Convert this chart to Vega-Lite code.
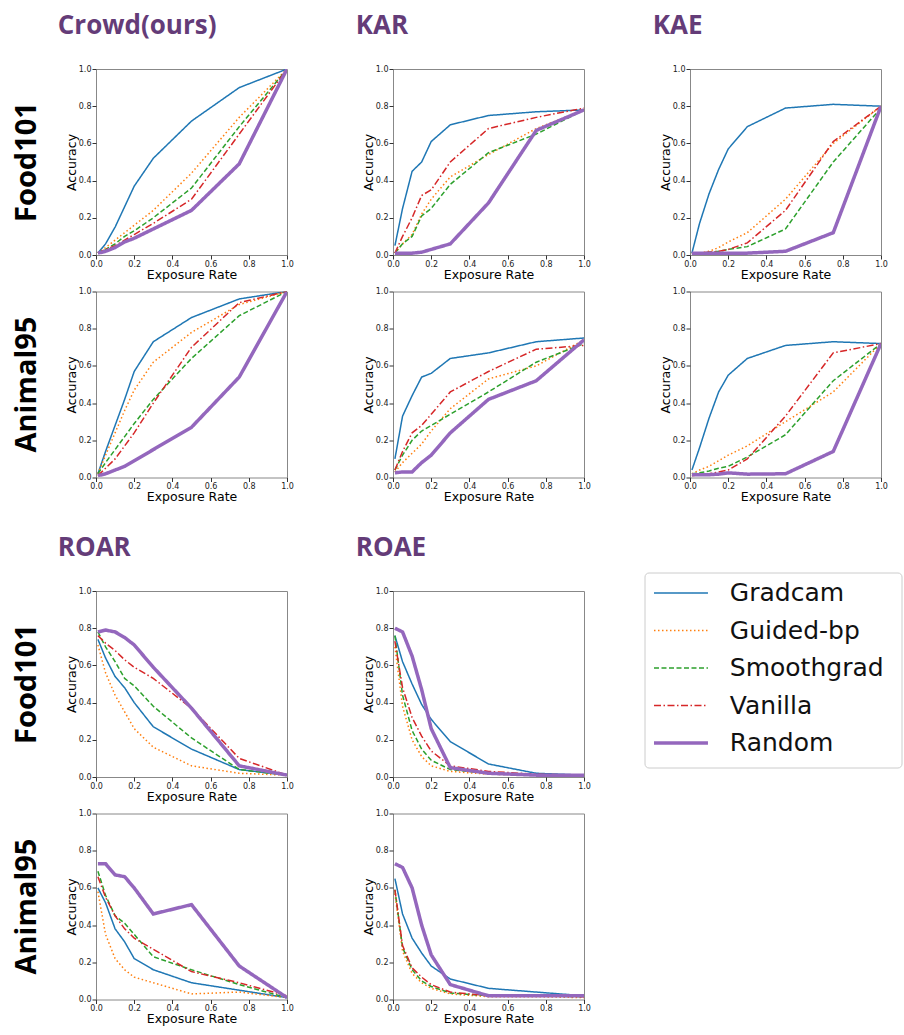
{
"$schema":"https://vega.github.io/schema/vega-lite/v6.json",
"padding":{"left":12,"top":12,"right":5,"bottom":5},
"background":"white",
"config":{
 "view":{"stroke":"#888","strokeWidth":1},
 "axis":{"grid":false,"domain":false,"tickSize":4,"tickColor":"#333","labelFont":"DejaVu Sans","labelFontSize":8,"labelColor":"#222","labelPadding":1,"labelFlush":false,"labelOverlap":false,"titleFont":"DejaVu Sans","titleFontSize":12.5,"titleFontWeight":"normal","titleColor":"#000","titlePadding":0}
},
"datasets":{
"crowd_food":[
{"s":"Gradcam","x":0.01,"y":0.01},{"s":"Gradcam","x":0.05,"y":0.06},{"s":"Gradcam","x":0.1,"y":0.15},{"s":"Gradcam","x":0.15,"y":0.26},{"s":"Gradcam","x":0.2,"y":0.37},{"s":"Gradcam","x":0.3,"y":0.52},{"s":"Gradcam","x":0.5,"y":0.72},{"s":"Gradcam","x":0.75,"y":0.9},{"s":"Gradcam","x":1,"y":1.0},
{"s":"Guided-bp","x":0.01,"y":0.01},{"s":"Guided-bp","x":0.05,"y":0.04},{"s":"Guided-bp","x":0.1,"y":0.08},{"s":"Guided-bp","x":0.15,"y":0.12},{"s":"Guided-bp","x":0.2,"y":0.16},{"s":"Guided-bp","x":0.3,"y":0.24},{"s":"Guided-bp","x":0.5,"y":0.44},{"s":"Guided-bp","x":0.75,"y":0.74},{"s":"Guided-bp","x":1,"y":1.0},
{"s":"Smoothgrad","x":0.01,"y":0.01},{"s":"Smoothgrad","x":0.05,"y":0.03},{"s":"Smoothgrad","x":0.1,"y":0.06},{"s":"Smoothgrad","x":0.15,"y":0.1},{"s":"Smoothgrad","x":0.2,"y":0.13},{"s":"Smoothgrad","x":0.3,"y":0.2},{"s":"Smoothgrad","x":0.5,"y":0.36},{"s":"Smoothgrad","x":0.75,"y":0.69},{"s":"Smoothgrad","x":1,"y":1.0},
{"s":"Vanilla","x":0.01,"y":0.01},{"s":"Vanilla","x":0.05,"y":0.03},{"s":"Vanilla","x":0.1,"y":0.05},{"s":"Vanilla","x":0.15,"y":0.08},{"s":"Vanilla","x":0.2,"y":0.11},{"s":"Vanilla","x":0.3,"y":0.17},{"s":"Vanilla","x":0.5,"y":0.3},{"s":"Vanilla","x":0.75,"y":0.65},{"s":"Vanilla","x":1,"y":1.0},
{"s":"Random","x":0.01,"y":0.01},{"s":"Random","x":0.05,"y":0.02},{"s":"Random","x":0.1,"y":0.04},{"s":"Random","x":0.15,"y":0.07},{"s":"Random","x":0.2,"y":0.09},{"s":"Random","x":0.3,"y":0.14},{"s":"Random","x":0.5,"y":0.24},{"s":"Random","x":0.75,"y":0.49},{"s":"Random","x":1,"y":1.0}
],
"kar_food":[
{"s":"Gradcam","x":0.01,"y":0.05},{"s":"Gradcam","x":0.05,"y":0.25},{"s":"Gradcam","x":0.1,"y":0.45},{"s":"Gradcam","x":0.15,"y":0.5},{"s":"Gradcam","x":0.2,"y":0.61},{"s":"Gradcam","x":0.3,"y":0.7},{"s":"Gradcam","x":0.5,"y":0.75},{"s":"Gradcam","x":0.75,"y":0.77},{"s":"Gradcam","x":1,"y":0.78},
{"s":"Guided-bp","x":0.01,"y":0.01},{"s":"Guided-bp","x":0.05,"y":0.06},{"s":"Guided-bp","x":0.1,"y":0.11},{"s":"Guided-bp","x":0.15,"y":0.22},{"s":"Guided-bp","x":0.2,"y":0.3},{"s":"Guided-bp","x":0.3,"y":0.42},{"s":"Guided-bp","x":0.5,"y":0.54},{"s":"Guided-bp","x":0.75,"y":0.68},{"s":"Guided-bp","x":1,"y":0.78},
{"s":"Smoothgrad","x":0.01,"y":0.01},{"s":"Smoothgrad","x":0.05,"y":0.06},{"s":"Smoothgrad","x":0.1,"y":0.1},{"s":"Smoothgrad","x":0.15,"y":0.21},{"s":"Smoothgrad","x":0.2,"y":0.25},{"s":"Smoothgrad","x":0.3,"y":0.38},{"s":"Smoothgrad","x":0.5,"y":0.55},{"s":"Smoothgrad","x":0.75,"y":0.65},{"s":"Smoothgrad","x":1,"y":0.78},
{"s":"Vanilla","x":0.01,"y":0.01},{"s":"Vanilla","x":0.05,"y":0.1},{"s":"Vanilla","x":0.1,"y":0.2},{"s":"Vanilla","x":0.15,"y":0.32},{"s":"Vanilla","x":0.2,"y":0.35},{"s":"Vanilla","x":0.3,"y":0.5},{"s":"Vanilla","x":0.5,"y":0.68},{"s":"Vanilla","x":0.75,"y":0.74},{"s":"Vanilla","x":1,"y":0.79},
{"s":"Random","x":0.01,"y":0.01},{"s":"Random","x":0.05,"y":0.01},{"s":"Random","x":0.1,"y":0.01},{"s":"Random","x":0.15,"y":0.015},{"s":"Random","x":0.2,"y":0.03},{"s":"Random","x":0.3,"y":0.06},{"s":"Random","x":0.5,"y":0.28},{"s":"Random","x":0.75,"y":0.67},{"s":"Random","x":1,"y":0.78}
],
"kae_food":[
{"s":"Gradcam","x":0.01,"y":0.01},{"s":"Gradcam","x":0.05,"y":0.17},{"s":"Gradcam","x":0.1,"y":0.33},{"s":"Gradcam","x":0.15,"y":0.46},{"s":"Gradcam","x":0.2,"y":0.57},{"s":"Gradcam","x":0.3,"y":0.69},{"s":"Gradcam","x":0.5,"y":0.79},{"s":"Gradcam","x":0.75,"y":0.81},{"s":"Gradcam","x":1,"y":0.8},
{"s":"Guided-bp","x":0.01,"y":0.01},{"s":"Guided-bp","x":0.05,"y":0.01},{"s":"Guided-bp","x":0.1,"y":0.02},{"s":"Guided-bp","x":0.15,"y":0.04},{"s":"Guided-bp","x":0.2,"y":0.07},{"s":"Guided-bp","x":0.3,"y":0.12},{"s":"Guided-bp","x":0.5,"y":0.3},{"s":"Guided-bp","x":0.75,"y":0.6},{"s":"Guided-bp","x":1,"y":0.8},
{"s":"Smoothgrad","x":0.01,"y":0.01},{"s":"Smoothgrad","x":0.05,"y":0.01},{"s":"Smoothgrad","x":0.1,"y":0.015},{"s":"Smoothgrad","x":0.15,"y":0.02},{"s":"Smoothgrad","x":0.2,"y":0.03},{"s":"Smoothgrad","x":0.3,"y":0.045},{"s":"Smoothgrad","x":0.5,"y":0.14},{"s":"Smoothgrad","x":0.75,"y":0.5},{"s":"Smoothgrad","x":1,"y":0.79},
{"s":"Vanilla","x":0.01,"y":0.01},{"s":"Vanilla","x":0.05,"y":0.01},{"s":"Vanilla","x":0.1,"y":0.015},{"s":"Vanilla","x":0.15,"y":0.02},{"s":"Vanilla","x":0.2,"y":0.03},{"s":"Vanilla","x":0.3,"y":0.065},{"s":"Vanilla","x":0.5,"y":0.24},{"s":"Vanilla","x":0.75,"y":0.61},{"s":"Vanilla","x":1,"y":0.8},
{"s":"Random","x":0.01,"y":0.01},{"s":"Random","x":0.05,"y":0.01},{"s":"Random","x":0.1,"y":0.01},{"s":"Random","x":0.15,"y":0.01},{"s":"Random","x":0.2,"y":0.01},{"s":"Random","x":0.3,"y":0.01},{"s":"Random","x":0.5,"y":0.02},{"s":"Random","x":0.75,"y":0.12},{"s":"Random","x":1,"y":0.8}
],
"crowd_animal":[
{"s":"Gradcam","x":0.01,"y":0.02},{"s":"Gradcam","x":0.05,"y":0.14},{"s":"Gradcam","x":0.1,"y":0.28},{"s":"Gradcam","x":0.15,"y":0.42},{"s":"Gradcam","x":0.2,"y":0.57},{"s":"Gradcam","x":0.3,"y":0.73},{"s":"Gradcam","x":0.5,"y":0.86},{"s":"Gradcam","x":0.75,"y":0.96},{"s":"Gradcam","x":1,"y":1.0},
{"s":"Guided-bp","x":0.01,"y":0.02},{"s":"Guided-bp","x":0.05,"y":0.12},{"s":"Guided-bp","x":0.1,"y":0.24},{"s":"Guided-bp","x":0.15,"y":0.36},{"s":"Guided-bp","x":0.2,"y":0.47},{"s":"Guided-bp","x":0.3,"y":0.62},{"s":"Guided-bp","x":0.5,"y":0.78},{"s":"Guided-bp","x":0.75,"y":0.93},{"s":"Guided-bp","x":1,"y":1.0},
{"s":"Smoothgrad","x":0.01,"y":0.02},{"s":"Smoothgrad","x":0.05,"y":0.08},{"s":"Smoothgrad","x":0.1,"y":0.15},{"s":"Smoothgrad","x":0.15,"y":0.22},{"s":"Smoothgrad","x":0.2,"y":0.29},{"s":"Smoothgrad","x":0.3,"y":0.42},{"s":"Smoothgrad","x":0.5,"y":0.64},{"s":"Smoothgrad","x":0.75,"y":0.87},{"s":"Smoothgrad","x":1,"y":1.0},
{"s":"Vanilla","x":0.01,"y":0.01},{"s":"Vanilla","x":0.05,"y":0.05},{"s":"Vanilla","x":0.1,"y":0.1},{"s":"Vanilla","x":0.15,"y":0.17},{"s":"Vanilla","x":0.2,"y":0.24},{"s":"Vanilla","x":0.3,"y":0.4},{"s":"Vanilla","x":0.5,"y":0.7},{"s":"Vanilla","x":0.75,"y":0.94},{"s":"Vanilla","x":1,"y":1.0},
{"s":"Random","x":0.01,"y":0.01},{"s":"Random","x":0.05,"y":0.02},{"s":"Random","x":0.1,"y":0.04},{"s":"Random","x":0.15,"y":0.06},{"s":"Random","x":0.2,"y":0.09},{"s":"Random","x":0.3,"y":0.15},{"s":"Random","x":0.5,"y":0.27},{"s":"Random","x":0.75,"y":0.54},{"s":"Random","x":1,"y":1.0}
],
"kar_animal":[
{"s":"Gradcam","x":0.01,"y":0.1},{"s":"Gradcam","x":0.05,"y":0.33},{"s":"Gradcam","x":0.1,"y":0.44},{"s":"Gradcam","x":0.15,"y":0.54},{"s":"Gradcam","x":0.2,"y":0.56},{"s":"Gradcam","x":0.3,"y":0.64},{"s":"Gradcam","x":0.5,"y":0.67},{"s":"Gradcam","x":0.75,"y":0.73},{"s":"Gradcam","x":1,"y":0.75},
{"s":"Guided-bp","x":0.01,"y":0.03},{"s":"Guided-bp","x":0.05,"y":0.08},{"s":"Guided-bp","x":0.1,"y":0.13},{"s":"Guided-bp","x":0.15,"y":0.18},{"s":"Guided-bp","x":0.2,"y":0.25},{"s":"Guided-bp","x":0.3,"y":0.37},{"s":"Guided-bp","x":0.5,"y":0.53},{"s":"Guided-bp","x":0.75,"y":0.6},{"s":"Guided-bp","x":1,"y":0.74},
{"s":"Smoothgrad","x":0.01,"y":0.04},{"s":"Smoothgrad","x":0.05,"y":0.12},{"s":"Smoothgrad","x":0.1,"y":0.2},{"s":"Smoothgrad","x":0.15,"y":0.25},{"s":"Smoothgrad","x":0.2,"y":0.28},{"s":"Smoothgrad","x":0.3,"y":0.34},{"s":"Smoothgrad","x":0.5,"y":0.46},{"s":"Smoothgrad","x":0.75,"y":0.62},{"s":"Smoothgrad","x":1,"y":0.72},
{"s":"Vanilla","x":0.01,"y":0.04},{"s":"Vanilla","x":0.05,"y":0.14},{"s":"Vanilla","x":0.1,"y":0.24},{"s":"Vanilla","x":0.15,"y":0.28},{"s":"Vanilla","x":0.2,"y":0.34},{"s":"Vanilla","x":0.3,"y":0.46},{"s":"Vanilla","x":0.5,"y":0.57},{"s":"Vanilla","x":0.75,"y":0.69},{"s":"Vanilla","x":1,"y":0.71},
{"s":"Random","x":0.01,"y":0.025},{"s":"Random","x":0.05,"y":0.03},{"s":"Random","x":0.1,"y":0.03},{"s":"Random","x":0.15,"y":0.08},{"s":"Random","x":0.2,"y":0.12},{"s":"Random","x":0.3,"y":0.24},{"s":"Random","x":0.5,"y":0.42},{"s":"Random","x":0.75,"y":0.52},{"s":"Random","x":1,"y":0.74}
],
"kae_animal":[
{"s":"Gradcam","x":0.01,"y":0.04},{"s":"Gradcam","x":0.05,"y":0.16},{"s":"Gradcam","x":0.1,"y":0.32},{"s":"Gradcam","x":0.15,"y":0.46},{"s":"Gradcam","x":0.2,"y":0.55},{"s":"Gradcam","x":0.3,"y":0.64},{"s":"Gradcam","x":0.5,"y":0.71},{"s":"Gradcam","x":0.75,"y":0.73},{"s":"Gradcam","x":1,"y":0.72},
{"s":"Guided-bp","x":0.01,"y":0.02},{"s":"Guided-bp","x":0.05,"y":0.04},{"s":"Guided-bp","x":0.1,"y":0.06},{"s":"Guided-bp","x":0.15,"y":0.09},{"s":"Guided-bp","x":0.2,"y":0.12},{"s":"Guided-bp","x":0.3,"y":0.17},{"s":"Guided-bp","x":0.5,"y":0.3},{"s":"Guided-bp","x":0.75,"y":0.46},{"s":"Guided-bp","x":1,"y":0.72},
{"s":"Smoothgrad","x":0.01,"y":0.02},{"s":"Smoothgrad","x":0.05,"y":0.025},{"s":"Smoothgrad","x":0.1,"y":0.035},{"s":"Smoothgrad","x":0.15,"y":0.05},{"s":"Smoothgrad","x":0.2,"y":0.06},{"s":"Smoothgrad","x":0.3,"y":0.11},{"s":"Smoothgrad","x":0.5,"y":0.23},{"s":"Smoothgrad","x":0.75,"y":0.52},{"s":"Smoothgrad","x":1,"y":0.72},
{"s":"Vanilla","x":0.01,"y":0.01},{"s":"Vanilla","x":0.05,"y":0.015},{"s":"Vanilla","x":0.1,"y":0.02},{"s":"Vanilla","x":0.15,"y":0.03},{"s":"Vanilla","x":0.2,"y":0.04},{"s":"Vanilla","x":0.3,"y":0.1},{"s":"Vanilla","x":0.5,"y":0.33},{"s":"Vanilla","x":0.75,"y":0.67},{"s":"Vanilla","x":1,"y":0.72},
{"s":"Random","x":0.01,"y":0.015},{"s":"Random","x":0.05,"y":0.015},{"s":"Random","x":0.1,"y":0.015},{"s":"Random","x":0.15,"y":0.018},{"s":"Random","x":0.2,"y":0.025},{"s":"Random","x":0.3,"y":0.018},{"s":"Random","x":0.5,"y":0.02},{"s":"Random","x":0.75,"y":0.14},{"s":"Random","x":1,"y":0.72}
],
"roar_food":[
{"s":"Gradcam","x":0.01,"y":0.74},{"s":"Gradcam","x":0.05,"y":0.64},{"s":"Gradcam","x":0.1,"y":0.54},{"s":"Gradcam","x":0.15,"y":0.48},{"s":"Gradcam","x":0.2,"y":0.4},{"s":"Gradcam","x":0.3,"y":0.27},{"s":"Gradcam","x":0.5,"y":0.15},{"s":"Gradcam","x":0.75,"y":0.04},{"s":"Gradcam","x":1,"y":0.01},
{"s":"Guided-bp","x":0.01,"y":0.71},{"s":"Guided-bp","x":0.05,"y":0.56},{"s":"Guided-bp","x":0.1,"y":0.44},{"s":"Guided-bp","x":0.15,"y":0.35},{"s":"Guided-bp","x":0.2,"y":0.26},{"s":"Guided-bp","x":0.3,"y":0.16},{"s":"Guided-bp","x":0.5,"y":0.06},{"s":"Guided-bp","x":0.75,"y":0.02},{"s":"Guided-bp","x":1,"y":0.01},
{"s":"Smoothgrad","x":0.01,"y":0.78},{"s":"Smoothgrad","x":0.05,"y":0.7},{"s":"Smoothgrad","x":0.1,"y":0.62},{"s":"Smoothgrad","x":0.15,"y":0.53},{"s":"Smoothgrad","x":0.2,"y":0.49},{"s":"Smoothgrad","x":0.3,"y":0.38},{"s":"Smoothgrad","x":0.5,"y":0.21},{"s":"Smoothgrad","x":0.75,"y":0.04},{"s":"Smoothgrad","x":1,"y":0.01},
{"s":"Vanilla","x":0.01,"y":0.76},{"s":"Vanilla","x":0.05,"y":0.72},{"s":"Vanilla","x":0.1,"y":0.68},{"s":"Vanilla","x":0.15,"y":0.63},{"s":"Vanilla","x":0.2,"y":0.59},{"s":"Vanilla","x":0.3,"y":0.53},{"s":"Vanilla","x":0.5,"y":0.37},{"s":"Vanilla","x":0.75,"y":0.1},{"s":"Vanilla","x":1,"y":0.01},
{"s":"Random","x":0.01,"y":0.78},{"s":"Random","x":0.05,"y":0.79},{"s":"Random","x":0.1,"y":0.78},{"s":"Random","x":0.15,"y":0.75},{"s":"Random","x":0.2,"y":0.71},{"s":"Random","x":0.3,"y":0.59},{"s":"Random","x":0.5,"y":0.37},{"s":"Random","x":0.75,"y":0.06},{"s":"Random","x":1,"y":0.01}
],
"roae_food":[
{"s":"Gradcam","x":0.01,"y":0.76},{"s":"Gradcam","x":0.05,"y":0.62},{"s":"Gradcam","x":0.1,"y":0.5},{"s":"Gradcam","x":0.15,"y":0.39},{"s":"Gradcam","x":0.2,"y":0.31},{"s":"Gradcam","x":0.3,"y":0.19},{"s":"Gradcam","x":0.5,"y":0.07},{"s":"Gradcam","x":0.75,"y":0.02},{"s":"Gradcam","x":1,"y":0.01},
{"s":"Guided-bp","x":0.01,"y":0.7},{"s":"Guided-bp","x":0.05,"y":0.38},{"s":"Guided-bp","x":0.1,"y":0.2},{"s":"Guided-bp","x":0.15,"y":0.11},{"s":"Guided-bp","x":0.2,"y":0.06},{"s":"Guided-bp","x":0.3,"y":0.03},{"s":"Guided-bp","x":0.5,"y":0.015},{"s":"Guided-bp","x":0.75,"y":0.01},{"s":"Guided-bp","x":1,"y":0.01},
{"s":"Smoothgrad","x":0.01,"y":0.76},{"s":"Smoothgrad","x":0.05,"y":0.44},{"s":"Smoothgrad","x":0.1,"y":0.25},{"s":"Smoothgrad","x":0.15,"y":0.15},{"s":"Smoothgrad","x":0.2,"y":0.09},{"s":"Smoothgrad","x":0.3,"y":0.04},{"s":"Smoothgrad","x":0.5,"y":0.02},{"s":"Smoothgrad","x":0.75,"y":0.01},{"s":"Smoothgrad","x":1,"y":0.01},
{"s":"Vanilla","x":0.01,"y":0.73},{"s":"Vanilla","x":0.05,"y":0.48},{"s":"Vanilla","x":0.1,"y":0.32},{"s":"Vanilla","x":0.15,"y":0.22},{"s":"Vanilla","x":0.2,"y":0.14},{"s":"Vanilla","x":0.3,"y":0.06},{"s":"Vanilla","x":0.5,"y":0.03},{"s":"Vanilla","x":0.75,"y":0.015},{"s":"Vanilla","x":1,"y":0.01},
{"s":"Random","x":0.01,"y":0.8},{"s":"Random","x":0.05,"y":0.78},{"s":"Random","x":0.1,"y":0.65},{"s":"Random","x":0.15,"y":0.47},{"s":"Random","x":0.2,"y":0.26},{"s":"Random","x":0.3,"y":0.05},{"s":"Random","x":0.5,"y":0.02},{"s":"Random","x":0.75,"y":0.01},{"s":"Random","x":1,"y":0.01}
],
"roar_animal":[
{"s":"Gradcam","x":0.01,"y":0.6},{"s":"Gradcam","x":0.05,"y":0.52},{"s":"Gradcam","x":0.1,"y":0.38},{"s":"Gradcam","x":0.15,"y":0.31},{"s":"Gradcam","x":0.2,"y":0.22},{"s":"Gradcam","x":0.3,"y":0.16},{"s":"Gradcam","x":0.5,"y":0.09},{"s":"Gradcam","x":0.75,"y":0.05},{"s":"Gradcam","x":1,"y":0.01},
{"s":"Guided-bp","x":0.01,"y":0.58},{"s":"Guided-bp","x":0.05,"y":0.35},{"s":"Guided-bp","x":0.1,"y":0.22},{"s":"Guided-bp","x":0.15,"y":0.16},{"s":"Guided-bp","x":0.2,"y":0.12},{"s":"Guided-bp","x":0.3,"y":0.09},{"s":"Guided-bp","x":0.5,"y":0.03},{"s":"Guided-bp","x":0.75,"y":0.04},{"s":"Guided-bp","x":1,"y":0.01},
{"s":"Smoothgrad","x":0.01,"y":0.69},{"s":"Smoothgrad","x":0.05,"y":0.56},{"s":"Smoothgrad","x":0.1,"y":0.45},{"s":"Smoothgrad","x":0.15,"y":0.41},{"s":"Smoothgrad","x":0.2,"y":0.35},{"s":"Smoothgrad","x":0.3,"y":0.23},{"s":"Smoothgrad","x":0.5,"y":0.16},{"s":"Smoothgrad","x":0.75,"y":0.08},{"s":"Smoothgrad","x":1,"y":0.01},
{"s":"Vanilla","x":0.01,"y":0.66},{"s":"Vanilla","x":0.05,"y":0.55},{"s":"Vanilla","x":0.1,"y":0.45},{"s":"Vanilla","x":0.15,"y":0.38},{"s":"Vanilla","x":0.2,"y":0.33},{"s":"Vanilla","x":0.3,"y":0.27},{"s":"Vanilla","x":0.5,"y":0.15},{"s":"Vanilla","x":0.75,"y":0.09},{"s":"Vanilla","x":1,"y":0.02},
{"s":"Random","x":0.01,"y":0.73},{"s":"Random","x":0.05,"y":0.73},{"s":"Random","x":0.1,"y":0.67},{"s":"Random","x":0.15,"y":0.66},{"s":"Random","x":0.2,"y":0.6},{"s":"Random","x":0.3,"y":0.46},{"s":"Random","x":0.5,"y":0.51},{"s":"Random","x":0.75,"y":0.18},{"s":"Random","x":1,"y":0.01}
],
"roae_animal":[
{"s":"Gradcam","x":0.01,"y":0.65},{"s":"Gradcam","x":0.05,"y":0.46},{"s":"Gradcam","x":0.1,"y":0.33},{"s":"Gradcam","x":0.15,"y":0.25},{"s":"Gradcam","x":0.2,"y":0.18},{"s":"Gradcam","x":0.3,"y":0.11},{"s":"Gradcam","x":0.5,"y":0.06},{"s":"Gradcam","x":0.75,"y":0.04},{"s":"Gradcam","x":1,"y":0.02},
{"s":"Guided-bp","x":0.01,"y":0.57},{"s":"Guided-bp","x":0.05,"y":0.26},{"s":"Guided-bp","x":0.1,"y":0.14},{"s":"Guided-bp","x":0.15,"y":0.09},{"s":"Guided-bp","x":0.2,"y":0.06},{"s":"Guided-bp","x":0.3,"y":0.03},{"s":"Guided-bp","x":0.5,"y":0.015},{"s":"Guided-bp","x":0.75,"y":0.015},{"s":"Guided-bp","x":1,"y":0.01},
{"s":"Smoothgrad","x":0.01,"y":0.59},{"s":"Smoothgrad","x":0.05,"y":0.28},{"s":"Smoothgrad","x":0.1,"y":0.16},{"s":"Smoothgrad","x":0.15,"y":0.1},{"s":"Smoothgrad","x":0.2,"y":0.07},{"s":"Smoothgrad","x":0.3,"y":0.035},{"s":"Smoothgrad","x":0.5,"y":0.02},{"s":"Smoothgrad","x":0.75,"y":0.02},{"s":"Smoothgrad","x":1,"y":0.015},
{"s":"Vanilla","x":0.01,"y":0.59},{"s":"Vanilla","x":0.05,"y":0.29},{"s":"Vanilla","x":0.1,"y":0.17},{"s":"Vanilla","x":0.15,"y":0.12},{"s":"Vanilla","x":0.2,"y":0.08},{"s":"Vanilla","x":0.3,"y":0.04},{"s":"Vanilla","x":0.5,"y":0.02},{"s":"Vanilla","x":0.75,"y":0.02},{"s":"Vanilla","x":1,"y":0.015},
{"s":"Random","x":0.01,"y":0.73},{"s":"Random","x":0.05,"y":0.71},{"s":"Random","x":0.1,"y":0.6},{"s":"Random","x":0.15,"y":0.4},{"s":"Random","x":0.2,"y":0.24},{"s":"Random","x":0.3,"y":0.08},{"s":"Random","x":0.5,"y":0.02},{"s":"Random","x":0.75,"y":0.02},{"s":"Random","x":1,"y":0.02}
],
"legend":[{"s":"Gradcam"},{"s":"Guided-bp"},{"s":"Smoothgrad"},{"s":"Vanilla"},{"s":"Random"}]
},
"spacing":30,
"vconcat":[
{"hconcat":[
 {"title":{"text":"Crowd(ours)","anchor":"start","font":"Open Sans","fontSize":26,"fontWeight":"bold","color":"#643c78","dx":45,"offset":26},
  "spacing":5.5,
  "vconcat":[
   {"width":191,"height":186,"title":{"text":"Food101","orient":"left","anchor":"middle","frame":"group","font":"Open Sans","fontSize":29,"fontWeight":"bold","color":"#000","offset":23},
    "data":{"name":"crowd_food"},"mark":{"type":"line","clip":true},
    "encoding":{"x":{"field":"x","type":"quantitative","scale":{"domain":[0,1],"nice":false},"axis":{"title":"Exposure Rate","values":[0,0.2,0.4,0.6,0.8,1],"format":".1f"}},"y":{"field":"y","type":"quantitative","scale":{"domain":[0,1],"nice":false},"axis":{"title":"Accuracy","values":[0,0.2,0.4,0.6,0.8,1],"format":".1f"}},"color":{"field":"s","type":"nominal","scale":{"domain":["Gradcam","Guided-bp","Smoothgrad","Vanilla","Random"],"range":["#1f77b4","#ff7f0e","#2ca02c","#d62728","#9467bd"]},"legend":null},"strokeDash":{"field":"s","type":"nominal","scale":{"domain":["Gradcam","Guided-bp","Smoothgrad","Vanilla","Random"],"range":[[1,0],[1.5,2.5],[5,2.5],[7,2.5,1.5,2.5],[1,0]]},"legend":null},"strokeWidth":{"field":"s","type":"nominal","scale":{"type":"ordinal","domain":["Gradcam","Guided-bp","Smoothgrad","Vanilla","Random"],"range":[1.5,1.5,1.5,1.5,3.5]},"legend":null}}},
   {"width":191,"height":186,"title":{"text":"Animal95","orient":"left","anchor":"middle","frame":"group","font":"Open Sans","fontSize":29,"fontWeight":"bold","color":"#000","offset":23},
    "data":{"name":"crowd_animal"},"mark":{"type":"line","clip":true},
    "encoding":{"x":{"field":"x","type":"quantitative","scale":{"domain":[0,1],"nice":false},"axis":{"title":"Exposure Rate","values":[0,0.2,0.4,0.6,0.8,1],"format":".1f"}},"y":{"field":"y","type":"quantitative","scale":{"domain":[0,1],"nice":false},"axis":{"title":"Accuracy","values":[0,0.2,0.4,0.6,0.8,1],"format":".1f"}},"color":{"field":"s","type":"nominal","scale":{"domain":["Gradcam","Guided-bp","Smoothgrad","Vanilla","Random"],"range":["#1f77b4","#ff7f0e","#2ca02c","#d62728","#9467bd"]},"legend":null},"strokeDash":{"field":"s","type":"nominal","scale":{"domain":["Gradcam","Guided-bp","Smoothgrad","Vanilla","Random"],"range":[[1,0],[1.5,2.5],[5,2.5],[7,2.5,1.5,2.5],[1,0]]},"legend":null},"strokeWidth":{"field":"s","type":"nominal","scale":{"type":"ordinal","domain":["Gradcam","Guided-bp","Smoothgrad","Vanilla","Random"],"range":[1.5,1.5,1.5,1.5,3.5]},"legend":null}}}
  ]},
 {"title":{"text":"KAR","anchor":"start","font":"Open Sans","fontSize":26,"fontWeight":"bold","color":"#643c78","dx":-6,"offset":26},
  "spacing":5.5,
  "vconcat":[
   {"width":191,"height":186,
    "data":{"name":"kar_food"},"mark":{"type":"line","clip":true},
    "encoding":{"x":{"field":"x","type":"quantitative","scale":{"domain":[0,1],"nice":false},"axis":{"title":"Exposure Rate","values":[0,0.2,0.4,0.6,0.8,1],"format":".1f"}},"y":{"field":"y","type":"quantitative","scale":{"domain":[0,1],"nice":false},"axis":{"title":"Accuracy","values":[0,0.2,0.4,0.6,0.8,1],"format":".1f"}},"color":{"field":"s","type":"nominal","scale":{"domain":["Gradcam","Guided-bp","Smoothgrad","Vanilla","Random"],"range":["#1f77b4","#ff7f0e","#2ca02c","#d62728","#9467bd"]},"legend":null},"strokeDash":{"field":"s","type":"nominal","scale":{"domain":["Gradcam","Guided-bp","Smoothgrad","Vanilla","Random"],"range":[[1,0],[1.5,2.5],[5,2.5],[7,2.5,1.5,2.5],[1,0]]},"legend":null},"strokeWidth":{"field":"s","type":"nominal","scale":{"type":"ordinal","domain":["Gradcam","Guided-bp","Smoothgrad","Vanilla","Random"],"range":[1.5,1.5,1.5,1.5,3.5]},"legend":null}}},
   {"width":191,"height":186,
    "data":{"name":"kar_animal"},"mark":{"type":"line","clip":true},
    "encoding":{"x":{"field":"x","type":"quantitative","scale":{"domain":[0,1],"nice":false},"axis":{"title":"Exposure Rate","values":[0,0.2,0.4,0.6,0.8,1],"format":".1f"}},"y":{"field":"y","type":"quantitative","scale":{"domain":[0,1],"nice":false},"axis":{"title":"Accuracy","values":[0,0.2,0.4,0.6,0.8,1],"format":".1f"}},"color":{"field":"s","type":"nominal","scale":{"domain":["Gradcam","Guided-bp","Smoothgrad","Vanilla","Random"],"range":["#1f77b4","#ff7f0e","#2ca02c","#d62728","#9467bd"]},"legend":null},"strokeDash":{"field":"s","type":"nominal","scale":{"domain":["Gradcam","Guided-bp","Smoothgrad","Vanilla","Random"],"range":[[1,0],[1.5,2.5],[5,2.5],[7,2.5,1.5,2.5],[1,0]]},"legend":null},"strokeWidth":{"field":"s","type":"nominal","scale":{"type":"ordinal","domain":["Gradcam","Guided-bp","Smoothgrad","Vanilla","Random"],"range":[1.5,1.5,1.5,1.5,3.5]},"legend":null}}}
  ]},
 {"title":{"text":"KAE","anchor":"start","font":"Open Sans","fontSize":26,"fontWeight":"bold","color":"#643c78","dx":-6,"offset":26},
  "spacing":5.5,
  "vconcat":[
   {"width":191,"height":186,
    "data":{"name":"kae_food"},"mark":{"type":"line","clip":true},
    "encoding":{"x":{"field":"x","type":"quantitative","scale":{"domain":[0,1],"nice":false},"axis":{"title":"Exposure Rate","values":[0,0.2,0.4,0.6,0.8,1],"format":".1f"}},"y":{"field":"y","type":"quantitative","scale":{"domain":[0,1],"nice":false},"axis":{"title":"Accuracy","values":[0,0.2,0.4,0.6,0.8,1],"format":".1f"}},"color":{"field":"s","type":"nominal","scale":{"domain":["Gradcam","Guided-bp","Smoothgrad","Vanilla","Random"],"range":["#1f77b4","#ff7f0e","#2ca02c","#d62728","#9467bd"]},"legend":null},"strokeDash":{"field":"s","type":"nominal","scale":{"domain":["Gradcam","Guided-bp","Smoothgrad","Vanilla","Random"],"range":[[1,0],[1.5,2.5],[5,2.5],[7,2.5,1.5,2.5],[1,0]]},"legend":null},"strokeWidth":{"field":"s","type":"nominal","scale":{"type":"ordinal","domain":["Gradcam","Guided-bp","Smoothgrad","Vanilla","Random"],"range":[1.5,1.5,1.5,1.5,3.5]},"legend":null}}},
   {"width":191,"height":186,
    "data":{"name":"kae_animal"},"mark":{"type":"line","clip":true},
    "encoding":{"x":{"field":"x","type":"quantitative","scale":{"domain":[0,1],"nice":false},"axis":{"title":"Exposure Rate","values":[0,0.2,0.4,0.6,0.8,1],"format":".1f"}},"y":{"field":"y","type":"quantitative","scale":{"domain":[0,1],"nice":false},"axis":{"title":"Accuracy","values":[0,0.2,0.4,0.6,0.8,1],"format":".1f"}},"color":{"field":"s","type":"nominal","scale":{"domain":["Gradcam","Guided-bp","Smoothgrad","Vanilla","Random"],"range":["#1f77b4","#ff7f0e","#2ca02c","#d62728","#9467bd"]},"legend":null},"strokeDash":{"field":"s","type":"nominal","scale":{"domain":["Gradcam","Guided-bp","Smoothgrad","Vanilla","Random"],"range":[[1,0],[1.5,2.5],[5,2.5],[7,2.5,1.5,2.5],[1,0]]},"legend":null},"strokeWidth":{"field":"s","type":"nominal","scale":{"type":"ordinal","domain":["Gradcam","Guided-bp","Smoothgrad","Vanilla","Random"],"range":[1.5,1.5,1.5,1.5,3.5]},"legend":null}}}
  ]}
 ],"spacing":61},
{"hconcat":[
 {"hconcat":[
  {"title":{"text":"ROAR","anchor":"start","font":"Open Sans","fontSize":26,"fontWeight":"bold","color":"#643c78","dx":45,"offset":26},
   "spacing":5.5,
   "vconcat":[
    {"width":191,"height":186,"title":{"text":"Food101","orient":"left","anchor":"middle","frame":"group","font":"Open Sans","fontSize":29,"fontWeight":"bold","color":"#000","offset":23},
     "data":{"name":"roar_food"},"mark":{"type":"line","clip":true},
     "encoding":{"x":{"field":"x","type":"quantitative","scale":{"domain":[0,1],"nice":false},"axis":{"title":"Exposure Rate","values":[0,0.2,0.4,0.6,0.8,1],"format":".1f"}},"y":{"field":"y","type":"quantitative","scale":{"domain":[0,1],"nice":false},"axis":{"title":"Accuracy","values":[0,0.2,0.4,0.6,0.8,1],"format":".1f"}},"color":{"field":"s","type":"nominal","scale":{"domain":["Gradcam","Guided-bp","Smoothgrad","Vanilla","Random"],"range":["#1f77b4","#ff7f0e","#2ca02c","#d62728","#9467bd"]},"legend":null},"strokeDash":{"field":"s","type":"nominal","scale":{"domain":["Gradcam","Guided-bp","Smoothgrad","Vanilla","Random"],"range":[[1,0],[1.5,2.5],[5,2.5],[7,2.5,1.5,2.5],[1,0]]},"legend":null},"strokeWidth":{"field":"s","type":"nominal","scale":{"type":"ordinal","domain":["Gradcam","Guided-bp","Smoothgrad","Vanilla","Random"],"range":[1.5,1.5,1.5,1.5,3.5]},"legend":null}}},
    {"width":191,"height":186,"title":{"text":"Animal95","orient":"left","anchor":"middle","frame":"group","font":"Open Sans","fontSize":29,"fontWeight":"bold","color":"#000","offset":23},
     "data":{"name":"roar_animal"},"mark":{"type":"line","clip":true},
     "encoding":{"x":{"field":"x","type":"quantitative","scale":{"domain":[0,1],"nice":false},"axis":{"title":"Exposure Rate","values":[0,0.2,0.4,0.6,0.8,1],"format":".1f"}},"y":{"field":"y","type":"quantitative","scale":{"domain":[0,1],"nice":false},"axis":{"title":"Accuracy","values":[0,0.2,0.4,0.6,0.8,1],"format":".1f"}},"color":{"field":"s","type":"nominal","scale":{"domain":["Gradcam","Guided-bp","Smoothgrad","Vanilla","Random"],"range":["#1f77b4","#ff7f0e","#2ca02c","#d62728","#9467bd"]},"legend":null},"strokeDash":{"field":"s","type":"nominal","scale":{"domain":["Gradcam","Guided-bp","Smoothgrad","Vanilla","Random"],"range":[[1,0],[1.5,2.5],[5,2.5],[7,2.5,1.5,2.5],[1,0]]},"legend":null},"strokeWidth":{"field":"s","type":"nominal","scale":{"type":"ordinal","domain":["Gradcam","Guided-bp","Smoothgrad","Vanilla","Random"],"range":[1.5,1.5,1.5,1.5,3.5]},"legend":null}}}
   ]},
  {"title":{"text":"ROAE","anchor":"start","font":"Open Sans","fontSize":26,"fontWeight":"bold","color":"#643c78","dx":-6,"offset":26},
   "spacing":5.5,
   "vconcat":[
    {"width":191,"height":186,
     "data":{"name":"roae_food"},"mark":{"type":"line","clip":true},
     "encoding":{"x":{"field":"x","type":"quantitative","scale":{"domain":[0,1],"nice":false},"axis":{"title":"Exposure Rate","values":[0,0.2,0.4,0.6,0.8,1],"format":".1f"}},"y":{"field":"y","type":"quantitative","scale":{"domain":[0,1],"nice":false},"axis":{"title":"Accuracy","values":[0,0.2,0.4,0.6,0.8,1],"format":".1f"}},"color":{"field":"s","type":"nominal","scale":{"domain":["Gradcam","Guided-bp","Smoothgrad","Vanilla","Random"],"range":["#1f77b4","#ff7f0e","#2ca02c","#d62728","#9467bd"]},"legend":null},"strokeDash":{"field":"s","type":"nominal","scale":{"domain":["Gradcam","Guided-bp","Smoothgrad","Vanilla","Random"],"range":[[1,0],[1.5,2.5],[5,2.5],[7,2.5,1.5,2.5],[1,0]]},"legend":null},"strokeWidth":{"field":"s","type":"nominal","scale":{"type":"ordinal","domain":["Gradcam","Guided-bp","Smoothgrad","Vanilla","Random"],"range":[1.5,1.5,1.5,1.5,3.5]},"legend":null}}},
    {"width":191,"height":186,
     "data":{"name":"roae_animal"},"mark":{"type":"line","clip":true},
     "encoding":{"x":{"field":"x","type":"quantitative","scale":{"domain":[0,1],"nice":false},"axis":{"title":"Exposure Rate","values":[0,0.2,0.4,0.6,0.8,1],"format":".1f"}},"y":{"field":"y","type":"quantitative","scale":{"domain":[0,1],"nice":false},"axis":{"title":"Accuracy","values":[0,0.2,0.4,0.6,0.8,1],"format":".1f"}},"color":{"field":"s","type":"nominal","scale":{"domain":["Gradcam","Guided-bp","Smoothgrad","Vanilla","Random"],"range":["#1f77b4","#ff7f0e","#2ca02c","#d62728","#9467bd"]},"legend":null},"strokeDash":{"field":"s","type":"nominal","scale":{"domain":["Gradcam","Guided-bp","Smoothgrad","Vanilla","Random"],"range":[[1,0],[1.5,2.5],[5,2.5],[7,2.5,1.5,2.5],[1,0]]},"legend":null},"strokeWidth":{"field":"s","type":"nominal","scale":{"type":"ordinal","domain":["Gradcam","Guided-bp","Smoothgrad","Vanilla","Random"],"range":[1.5,1.5,1.5,1.5,3.5]},"legend":null}}}
   ]}
 ],"spacing":61},
 {"width":257,"height":195,
  "view":{"stroke":null},
  "resolve":{"scale":{"y":"independent"}},
  "layer":[
   {"data":{"values":[{"box":"legend"}]},
    "mark":{"type":"rect","filled":false,"stroke":"#cccccc","strokeWidth":1,"cornerRadius":4},
    "encoding":{"x":{"datum":0,"type":"quantitative","scale":{"domain":[0,1],"nice":false},"axis":null},"x2":{"datum":1},
     "y":{"datum":0,"type":"quantitative","scale":{"domain":[0,1],"nice":false,"range":[-18,177]},"axis":null},"y2":{"datum":1}}},
   {"data":{"name":"legend"},
    "mark":{"type":"rule"},
    "encoding":{"x":{"datum":0.035,"type":"quantitative","scale":{"domain":[0,1],"nice":false},"axis":null},"x2":{"datum":0.245},
     "y":{"field":"s","type":"nominal","sort":["Gradcam","Guided-bp","Smoothgrad","Vanilla","Random"],"scale":{"type":"point","padding":0,"range":[2,152]},"axis":null},
     "color":{"field":"s","type":"nominal","scale":{"domain":["Gradcam","Guided-bp","Smoothgrad","Vanilla","Random"],"range":["#1f77b4","#ff7f0e","#2ca02c","#d62728","#9467bd"]},"legend":null},"strokeDash":{"field":"s","type":"nominal","scale":{"domain":["Gradcam","Guided-bp","Smoothgrad","Vanilla","Random"],"range":[[1,0],[1.5,2.5],[5,2.5],[7,2.5,1.5,2.5],[1,0]]},"legend":null},"strokeWidth":{"field":"s","type":"nominal","scale":{"type":"ordinal","domain":["Gradcam","Guided-bp","Smoothgrad","Vanilla","Random"],"range":[1.5,1.5,1.5,1.5,3.5]},"legend":null}}},
   {"data":{"name":"legend"},
    "mark":{"type":"text","align":"left","baseline":"middle","font":"DejaVu Sans","fontSize":25,"color":"#111"},
    "encoding":{"x":{"datum":0.33,"type":"quantitative"},
     "y":{"field":"s","type":"nominal","sort":["Gradcam","Guided-bp","Smoothgrad","Vanilla","Random"],"scale":{"type":"point","padding":0,"range":[2,152]},"axis":null},
     "text":{"field":"s"}}}
  ]}
 ],"spacing":53}
]
}
